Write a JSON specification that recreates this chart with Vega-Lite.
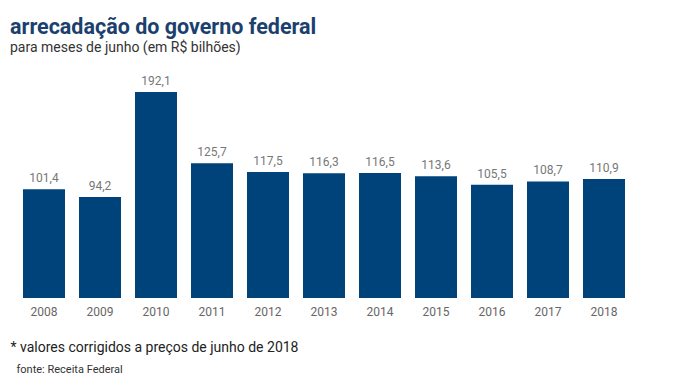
{
  "$schema": "https://vega.github.io/schema/vega-lite/v6.json",
  "width": 616,
  "height": 206,
  "autosize": {"type": "none"},
  "padding": {"left": 16, "top": 92, "right": 50, "bottom": 79},
  "background": "white",
  "config": {
    "view": {"stroke": null},
    "font": "Roboto",
    "locale": {"number": {"decimal": ",", "thousands": ".", "grouping": [3], "currency": ["R$", ""]}}
  },
  "title": {
    "text": "arrecadação do governo federal",
    "subtitle": "para meses de junho  (em R$ bilhões)",
    "anchor": "start",
    "frame": "group",
    "dx": -6,
    "offset": 20,
    "font": "Roboto",
    "fontSize": 21.5,
    "fontWeight": "bold",
    "color": "#1b3f6e",
    "subtitleFont": "Roboto",
    "subtitleFontSize": 14,
    "subtitleColor": "#333333",
    "subtitlePadding": 3
  },
  "data": {
    "values": [
      {"ano": "2008", "valor": 101.4},
      {"ano": "2009", "valor": 94.2},
      {"ano": "2010", "valor": 192.1},
      {"ano": "2011", "valor": 125.7},
      {"ano": "2012", "valor": 117.5},
      {"ano": "2013", "valor": 116.3},
      {"ano": "2014", "valor": 116.5},
      {"ano": "2015", "valor": 113.6},
      {"ano": "2016", "valor": 105.5},
      {"ano": "2017", "valor": 108.7},
      {"ano": "2018", "valor": 110.9}
    ]
  },
  "resolve": {"scale": {"x": "independent"}, "axis": {"x": "independent"}},
  "layer": [
    {
      "mark": {"type": "bar", "color": "#00427a"},
      "encoding": {
        "x": {
          "field": "ano", "type": "nominal", "sort": null,
          "scale": {"paddingInner": 0.25, "paddingOuter": 0.125},
          "axis": {
            "orient": "bottom",
            "labelAngle": 0, "ticks": false, "domain": false,
            "labelPadding": 8, "labelFontSize": 12, "labelColor": "#666666", "labelFont": "Roboto",
            "title": "* valores corrigidos a preços de junho de 2018",
            "titleFont": "Roboto", "titleFontSize": 14, "titleFontWeight": "normal", "titleColor": "#222222",
            "titleAnchor": "start", "titleAlign": "left", "titleBaseline": "alphabetic",
            "titleX": -6, "titleY": 53
          }
        },
        "y": {
          "field": "valor", "type": "quantitative",
          "scale": {"domain": [0, 192.1], "nice": false},
          "axis": null
        }
      }
    },
    {
      "mark": {"type": "text", "baseline": "bottom", "dy": -4, "fontSize": 12, "color": "#777777", "font": "Roboto"},
      "encoding": {
        "x": {
          "field": "ano", "type": "nominal", "sort": null,
          "scale": {"paddingInner": 0.25, "paddingOuter": 0.125},
          "axis": {
            "orient": "bottom",
            "labels": false, "ticks": false, "domain": false,
            "title": "fonte: Receita Federal",
            "titleFont": "Roboto", "titleFontSize": 11, "titleFontWeight": "normal", "titleColor": "#333333",
            "titleAnchor": "start", "titleAlign": "left", "titleBaseline": "alphabetic",
            "titleX": 0, "titleY": 74
          }
        },
        "y": {"field": "valor", "type": "quantitative", "scale": {"domain": [0, 192.1], "nice": false}, "axis": null},
        "text": {"field": "valor", "type": "quantitative", "format": ".1f"}
      }
    }
  ]
}
